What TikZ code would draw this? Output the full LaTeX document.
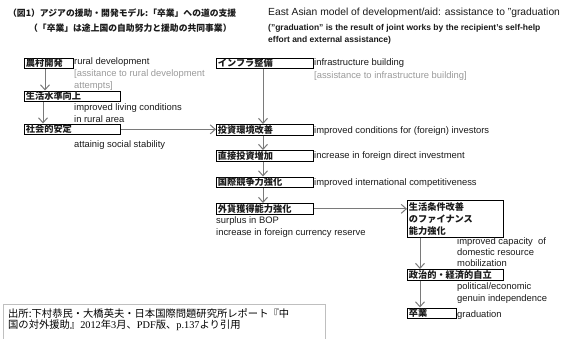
\documentclass[tikz,border=0pt]{standalone}
\usepackage{fontspec}
\setmainfont{Liberation Sans}
\newfontfamily\cjk{Noto Sans CJK JP}
\newfontfamily\serifx{Liberation Serif}
\usetikzlibrary{arrows.meta}
\definecolor{arrgray}{HTML}{7A7A7A}
\definecolor{lightgray}{HTML}{9A9A9A}
\definecolor{txt}{HTML}{1A1A1A}
\begin{document}
\begin{tikzpicture}[x=1pt,y=-1pt,
  box/.style={draw=black, line width=1.2pt, anchor=north west, inner xsep=1.3pt, inner ysep=0pt,
    minimum height=10.5pt, align=left, font=\cjk\bfseries\fontsize{9.2}{12}\selectfont, text=txt},
  lbl/.style={anchor=base west, inner sep=0pt, font=\fontsize{9.4}{10}\selectfont, text=txt},
  glbl/.style={lbl, text=lightgray},
  arr/.style={draw=arrgray, line width=1pt, -{Straight Barb[length=5pt,width=9pt]}}]
\useasboundingbox (0,0) rectangle (568,338);

% titles
\node[anchor=base west, inner sep=0pt, font=\cjk\bfseries\fontsize{8.8}{10}\selectfont, text=txt] (title) at (8,16) {（図1）アジアの援助・開発モデル:「卒業」への道の支援};
\node[anchor=base west, inner sep=0pt, font=\cjk\bfseries\fontsize{8.8}{10}\selectfont, text=txt] (subtitle) at (29,31) {（「卒業」は途上国の自助努力と援助の共同事業）};
\node[anchor=base west, inner sep=0pt, font=\fontsize{10.3}{10}\selectfont, text=txt] (etitle) at (268,15.5) {East Asian model of development/aid: assistance to "graduation};
\node[anchor=base west, inner sep=0pt, font=\bfseries\fontsize{8.5}{10}\selectfont, text=txt] (esub1) at (268,30) {("graduation" is the result of joint works by the recipient's self-help};
\node[anchor=base west, inner sep=0pt, font=\bfseries\fontsize{8.5}{10}\selectfont, text=txt] (esub2) at (268,42) {effort and external assistance)};

% left column boxes
\node[box, text width=46.5pt] (b1) at (24,57.5) {農村開発};
\node[box, text width=93.5pt] (b2) at (24,90.5) {生活水準向上};
\node[box, text width=93.5pt] (b3) at (24,123.5) {社会的安定};

% right column boxes
\node[box, text width=94.5pt] (r1) at (216,57.5) {インフラ整備};
\node[box, text width=94.5pt] (r2) at (216,124) {投資環境改善};
\node[box, text width=94.5pt] (r3) at (216,150) {直接投資増加};
\node[box, text width=94.5pt] (r4) at (216,176.5) {国際競争力強化};
\node[box, text width=94.5pt] (r5) at (216,203) {外貨獲得能力強化};
\node[box, text width=93.5pt, minimum height=37pt] (r6) at (407,199.5) {生活条件改善\\のファイナンス\\能力強化};
\node[box, text width=93.5pt] (r7) at (407,269) {政治的・経済的自立};
\node[box, text width=46.5pt] (r8) at (407,307.5) {卒業};

% labels
\node[lbl] (l1) at (74,64.5) {rural development};
\node[glbl] (l1b) at (74,76.5) {[assitance to rural development};
\node[glbl] (l1c) at (74,88) {attempts]};
\node[lbl] (l2) at (74,110) {improved living conditions};
\node[lbl] (l2b) at (74,122) {in rural area};
\node[lbl] (l3) at (74,147) {attainig social stability};
\node[lbl] (lr1) at (314,65) {infrastructure building};
\node[glbl] (lr1b) at (314,78) {[assistance to infrastructure building]};
\node[lbl] (lr2) at (314,133) {improved conditions for (foreign) investors};
\node[lbl] (lr3) at (314,158) {increase in foreign direct investment};
\node[lbl] (lr4) at (314,185) {improved international competitiveness};
\node[lbl] (lr5) at (216,223.5) {surplus in BOP};
\node[lbl] (lr5b) at (216,235) {increase in foreign currency reserve};
\node[lbl] (lr6) at (457,244.5) {improved capacity\ \ of};
\node[lbl] (lr6b) at (457,255.5) {domestic resource};
\node[lbl] (lr6c) at (457,266) {mobilization};
\node[lbl] (lr7) at (457,289) {political/economic};
\node[lbl] (lr7b) at (457,301.5) {genuin independence};
\node[lbl] (lr8) at (457,317) {graduation};

% arrows
\draw[arr] ([xshift=21pt]b1.south west) -- ([xshift=21pt]b2.north west);
\draw[arr] ([xshift=19pt]b2.south west) -- ([xshift=19pt]b3.north west);
\draw[arr] (b3.east) -- (b3.east -| r2.west);
\draw[arr] ([xshift=47pt]r1.south west) -- ([xshift=47pt]r2.north west);
\draw[arr] ([xshift=47pt]r2.south west) -- ([xshift=47pt]r3.north west);
\draw[arr] ([xshift=47pt]r3.south west) -- ([xshift=47pt]r4.north west);
\draw[arr] ([xshift=47pt]r4.south west) -- ([xshift=47pt]r5.north west);
\draw[arr] (r5.east) -- (r5.east -| r6.west);
\draw[arr] ([xshift=13pt]r6.south west) -- ([xshift=13pt]r7.north west);
\draw[arr] ([xshift=13pt]r7.south west) -- ([xshift=13pt]r8.north west);

% source box
\draw[draw=black!25, line width=0.6pt] (3,340) -- (3,304) -- (325,304) -- (325,340);
\node[anchor=base west, inner sep=0pt, font=\cjk\fontsize{10.3}{10}\selectfont, text=black] (src1) at (8,317.5) {出所:下村恭民・大橋英夫・日本国際問題研究所レポート『中};
\node[anchor=base west, inner sep=0pt, font=\cjk\fontsize{10.3}{10}\selectfont, text=black] (src2) at (8,328) {国の対外援助』{\serifx 2012}年{\serifx 3}月、{\serifx PDF}版、{\serifx p.137}より引用};
\end{tikzpicture}
\end{document}
